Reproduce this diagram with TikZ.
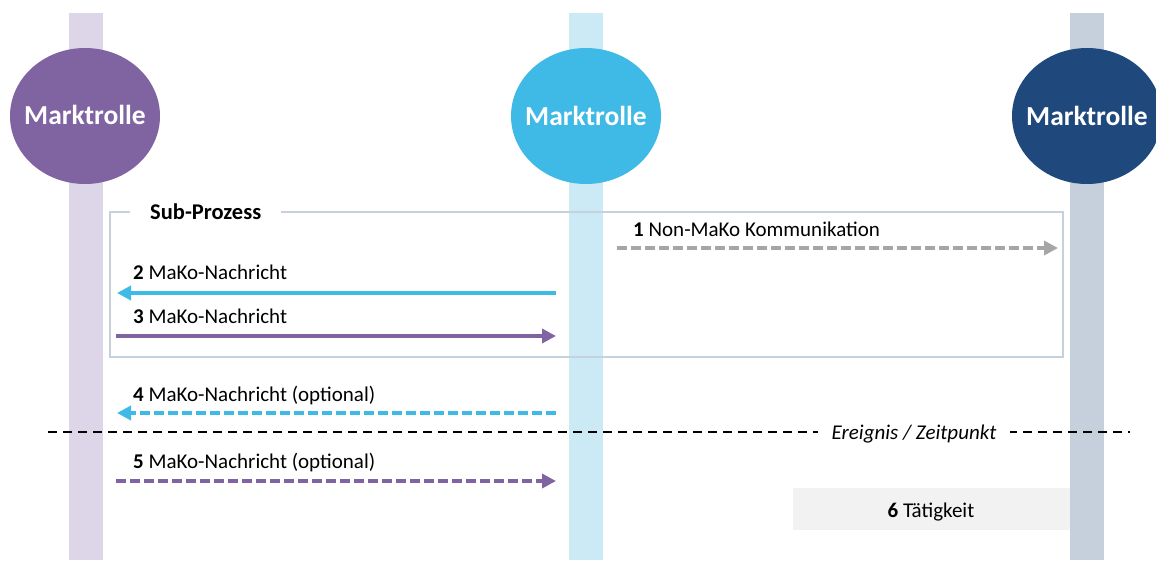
\documentclass[tikz,border=0pt]{standalone}
\usepackage{fontspec}
\setmainfont{Carlito}
\usetikzlibrary{arrows.meta,shapes.geometric}
\definecolor{purp}{HTML}{8064A2}
\definecolor{purplane}{HTML}{DCD6E8}
\definecolor{cyanr}{HTML}{3FB9E5}
\definecolor{cyanlane}{HTML}{CCEAF5}
\definecolor{navy}{HTML}{1F497D}
\definecolor{navylane}{HTML}{C6D0DD}
\definecolor{grayarr}{HTML}{A6A6A6}
\definecolor{boxline}{HTML}{C5D1DC}
\definecolor{actfill}{HTML}{F2F2F2}
\begin{document}
\begin{tikzpicture}[x=1pt,y=-1pt,
  role/.style={ellipse, minimum width=150pt, minimum height=136pt, inner sep=0pt,
    text=white, font=\fontsize{27.5}{32}\selectfont\bfseries},
  msg/.style={line width=4.5pt, -{Triangle[length=14pt,width=14pt]}},
  dmsg/.style={msg, dash pattern=on 10pt off 4pt},
  lbl/.style={anchor=base west, inner sep=0pt, font=\fontsize{21}{25}\selectfont},
  eventline/.style={line width=1.6pt, dash pattern=on 9pt off 6pt}
]
\useasboundingbox (0,0) rectangle (1156,560);
\clip (0,0) rectangle (1156,560);
% lanes
\fill[purplane] (69,13) rectangle (103,560);
\fill[cyanlane] (569,13) rectangle (603,560);
\fill[navylane] (1070,13) rectangle (1104,560);
% roles
\node[role, fill=purp] (r1) at (85,116) {\raisebox{2pt}{\makebox[0pt]{Marktrolle}}};
\node[role, fill=cyanr] (r2) at (586,116) {\makebox[0pt]{Marktrolle}};
\node[role, fill=navy] (r3) at (1087,116) {\makebox[0pt]{Marktrolle}};
% sub-process frame
\draw[boxline, line width=1.3pt] (110,212) rectangle (1063,357);
\node[anchor=base west, fill=white, inner xsep=20pt, inner ysep=4pt,
  font=\fontsize{22.5}{26}\selectfont\bfseries] (sp) at (130,219) {Sub-Prozess};
% coordinates
\coordinate (a1s) at (617,248); \coordinate (a1e) at (1058,248);
\coordinate (a2s) at (556,293); \coordinate (a2e) at (117,293);
\coordinate (a3s) at (116,336); \coordinate (a3e) at (556,336);
\coordinate (a4s) at (556,413); \coordinate (a4e) at (117,413);
\coordinate (a5s) at (116,481); \coordinate (a5e) at (556,481);
\coordinate (evs) at (48,432); \coordinate (eve) at (1130,432);
% messages
\draw[dmsg, grayarr] (a1s) -- (a1e);
\node[lbl] (l1) at (633,236) {\textbf{1} Non-MaKo Kommunikation};
\draw[msg, cyanr] (a2s) -- (a2e);
\node[lbl] (l2) at (133,279) {\textbf{2} MaKo-Nachricht};
\draw[msg, purp] (a3s) -- (a3e);
\node[lbl] (l3) at (133,323) {\textbf{3} MaKo-Nachricht};
\draw[dmsg, cyanr] (a4s) -- (a4e);
\node[lbl] (l4) at (133,401) {\textbf{4} MaKo-Nachricht (optional)};
% event line
\draw[eventline] (evs) -- (eve);
\node[anchor=base, fill=white, inner xsep=14pt, inner ysep=3pt,
  font=\fontsize{21}{25}\selectfont\itshape] (ev) at (914,439) {Ereignis / Zeitpunkt};
\draw[dmsg, purp] (a5s) -- (a5e);
\node[lbl] (l5) at (133,468) {\textbf{5} MaKo-Nachricht (optional)};
% activity
\fill[actfill] (793,488) rectangle (1070,530);
\node[anchor=base, inner sep=0pt, font=\fontsize{21}{25}\selectfont] (act) at (931,517) {\textbf{6} Tätigkeit};
\end{tikzpicture}
\end{document}
